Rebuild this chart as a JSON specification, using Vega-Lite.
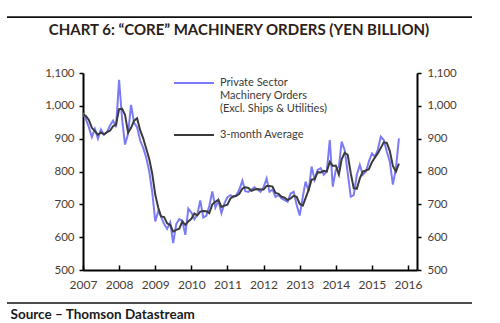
{
  "$schema": "https://vega.github.io/schema/vega-lite/v6.json",
  "width": 334,
  "height": 197,
  "autosize": {"type": "none"},
  "padding": {"left": 83, "top": 73, "right": 83, "bottom": 53},
  "background": "white",
  "config": {"view": {"stroke": null}, "font": "Lato"},
  "title": {
    "text": "CHART 6: “CORE” MACHINERY ORDERS (YEN BILLION)",
    "fontSize": 15,
    "fontWeight": "bold",
    "color": "#2b2119",
    "anchor": "middle",
    "dx": -11,
    "offset": -22
  },
  "data": {
    "values": [
      {"date": "2007-01", "orders": 978, "avg": 975},
      {"date": "2007-02", "orders": 958, "avg": 968},
      {"date": "2007-03", "orders": 935, "avg": 957},
      {"date": "2007-04", "orders": 905, "avg": 933},
      {"date": "2007-05", "orders": 930, "avg": 923},
      {"date": "2007-06", "orders": 900, "avg": 912},
      {"date": "2007-07", "orders": 928, "avg": 919},
      {"date": "2007-08", "orders": 912, "avg": 913},
      {"date": "2007-09", "orders": 920, "avg": 920},
      {"date": "2007-10", "orders": 940, "avg": 924},
      {"date": "2007-11", "orders": 955, "avg": 938},
      {"date": "2007-12", "orders": 935, "avg": 943},
      {"date": "2008-01", "orders": 1079, "avg": 990},
      {"date": "2008-02", "orders": 958, "avg": 991},
      {"date": "2008-03", "orders": 882, "avg": 973},
      {"date": "2008-04", "orders": 915, "avg": 918},
      {"date": "2008-05", "orders": 1003, "avg": 933},
      {"date": "2008-06", "orders": 948, "avg": 955},
      {"date": "2008-07", "orders": 935, "avg": 962},
      {"date": "2008-08", "orders": 895, "avg": 926},
      {"date": "2008-09", "orders": 872, "avg": 901},
      {"date": "2008-10", "orders": 843, "avg": 870},
      {"date": "2008-11", "orders": 800, "avg": 838},
      {"date": "2008-12", "orders": 738, "avg": 794},
      {"date": "2009-01", "orders": 648, "avg": 729},
      {"date": "2009-02", "orders": 680, "avg": 689},
      {"date": "2009-03", "orders": 662, "avg": 663},
      {"date": "2009-04", "orders": 640, "avg": 661},
      {"date": "2009-05", "orders": 625, "avg": 642},
      {"date": "2009-06", "orders": 645, "avg": 637},
      {"date": "2009-07", "orders": 582, "avg": 617},
      {"date": "2009-08", "orders": 640, "avg": 622},
      {"date": "2009-09", "orders": 655, "avg": 626},
      {"date": "2009-10", "orders": 650, "avg": 648},
      {"date": "2009-11", "orders": 607, "avg": 637},
      {"date": "2009-12", "orders": 687, "avg": 648},
      {"date": "2010-01", "orders": 675, "avg": 656},
      {"date": "2010-02", "orders": 655, "avg": 672},
      {"date": "2010-03", "orders": 668, "avg": 666},
      {"date": "2010-04", "orders": 712, "avg": 678},
      {"date": "2010-05", "orders": 660, "avg": 680},
      {"date": "2010-06", "orders": 665, "avg": 679},
      {"date": "2010-07", "orders": 695, "avg": 673},
      {"date": "2010-08", "orders": 739, "avg": 700},
      {"date": "2010-09", "orders": 690, "avg": 708},
      {"date": "2010-10", "orders": 712, "avg": 714},
      {"date": "2010-11", "orders": 673, "avg": 692},
      {"date": "2010-12", "orders": 703, "avg": 696},
      {"date": "2011-01", "orders": 722, "avg": 699},
      {"date": "2011-02", "orders": 728, "avg": 718},
      {"date": "2011-03", "orders": 722, "avg": 724},
      {"date": "2011-04", "orders": 728, "avg": 726},
      {"date": "2011-05", "orders": 745, "avg": 732},
      {"date": "2011-06", "orders": 772, "avg": 748},
      {"date": "2011-07", "orders": 740, "avg": 752},
      {"date": "2011-08", "orders": 738, "avg": 750},
      {"date": "2011-09", "orders": 745, "avg": 741},
      {"date": "2011-10", "orders": 752, "avg": 745},
      {"date": "2011-11", "orders": 745, "avg": 747},
      {"date": "2011-12", "orders": 738, "avg": 745},
      {"date": "2012-01", "orders": 752, "avg": 745},
      {"date": "2012-02", "orders": 779, "avg": 756},
      {"date": "2012-03", "orders": 738, "avg": 756},
      {"date": "2012-04", "orders": 745, "avg": 754},
      {"date": "2012-05", "orders": 723, "avg": 735},
      {"date": "2012-06", "orders": 728, "avg": 732},
      {"date": "2012-07", "orders": 718, "avg": 723},
      {"date": "2012-08", "orders": 713, "avg": 720},
      {"date": "2012-09", "orders": 708, "avg": 713},
      {"date": "2012-10", "orders": 733, "avg": 718},
      {"date": "2012-11", "orders": 738, "avg": 726},
      {"date": "2012-12", "orders": 698, "avg": 723},
      {"date": "2013-01", "orders": 666, "avg": 701},
      {"date": "2013-02", "orders": 723, "avg": 696},
      {"date": "2013-03", "orders": 769, "avg": 719},
      {"date": "2013-04", "orders": 740, "avg": 744},
      {"date": "2013-05", "orders": 815, "avg": 775},
      {"date": "2013-06", "orders": 775, "avg": 777},
      {"date": "2013-07", "orders": 805, "avg": 798},
      {"date": "2013-08", "orders": 810, "avg": 797},
      {"date": "2013-09", "orders": 790, "avg": 802},
      {"date": "2013-10", "orders": 800, "avg": 800},
      {"date": "2013-11", "orders": 896, "avg": 829},
      {"date": "2013-12", "orders": 754, "avg": 817},
      {"date": "2014-01", "orders": 805, "avg": 818},
      {"date": "2014-02", "orders": 815, "avg": 791},
      {"date": "2014-03", "orders": 891, "avg": 837},
      {"date": "2014-04", "orders": 865, "avg": 857},
      {"date": "2014-05", "orders": 796, "avg": 851},
      {"date": "2014-06", "orders": 723, "avg": 795},
      {"date": "2014-07", "orders": 728, "avg": 749},
      {"date": "2014-08", "orders": 790, "avg": 747},
      {"date": "2014-09", "orders": 820, "avg": 779},
      {"date": "2014-10", "orders": 790, "avg": 800},
      {"date": "2014-11", "orders": 800, "avg": 803},
      {"date": "2014-12", "orders": 830, "avg": 807},
      {"date": "2015-01", "orders": 855, "avg": 828},
      {"date": "2015-02", "orders": 845, "avg": 843},
      {"date": "2015-03", "orders": 866, "avg": 855},
      {"date": "2015-04", "orders": 906, "avg": 872},
      {"date": "2015-05", "orders": 896, "avg": 889},
      {"date": "2015-06", "orders": 860, "avg": 887},
      {"date": "2015-07", "orders": 830, "avg": 862},
      {"date": "2015-08", "orders": 760, "avg": 817},
      {"date": "2015-09", "orders": 810, "avg": 800},
      {"date": "2015-10", "orders": 901, "avg": 824}
    ]
  },
  "layer": [
    {
      "mark": {"type": "line", "strokeWidth": 2, "clip": true},
      "encoding": {
        "x": {
          "field": "date",
          "type": "temporal",
          "scale": {"domain": [{"year": 2007, "month": 1, "date": 1}, {"year": 2016, "month": 4, "date": 1}]},
          "axis": {
            "format": "%Y",
            "tickCount": {"interval": "year", "step": 1},
            "grid": false,
            "domainColor": "#000000",
            "domainWidth": 2,
            "tickColor": "#000000",
            "tickWidth": 1.5,
            "tickSize": -5,
            "labelPadding": 14,
            "labelFontSize": 12,
            "labelColor": "#4a3c34",
            "labelFlush": false,
            "title": "Source – Thomson Datastream",
            "titleX": -73,
            "titleY": 44,
            "titleAlign": "left",
            "titleAnchor": "start",
            "titleBaseline": "middle",
            "titleFontSize": 13.5,
            "titleFontWeight": "bold",
            "titleColor": "#1a1a1a"
          }
        },
        "y": {
          "field": "orders",
          "type": "quantitative",
          "scale": {"domain": [500, 1100]},
          "axis": {
            "orient": "left",
            "values": [500, 600, 700, 800, 900, 1000, 1100],
            "format": ",d",
            "grid": false,
            "domainColor": "#000000",
            "domainWidth": 2,
            "tickColor": "#000000",
            "tickWidth": 1.5,
            "tickSize": 4,
            "labelPadding": 5,
            "labelFontSize": 11.5,
            "labelColor": "#4a3c34",
            "title": null
          }
        },
        "color": {
          "datum": "orders",
          "type": "nominal",
          "scale": {"domain": ["orders", "avg"], "range": ["#7b7bf6", "#3b3b3b"]},
          "legend": {
            "orient": "none",
            "legendX": 90,
            "legendY": -11,
            "title": null,
            "symbolType": "stroke",
            "symbolSize": 1600,
            "symbolStrokeWidth": 2,
            "labelFontSize": 11,
            "labelColor": "#3a3a3a",
            "labelOffset": 5,
            "labelLimit": 300,
            "rowPadding": -7,
            "labelExpr": "datum.value == 'orders' ? ['Private Sector', 'Machinery Orders', '(Excl. Ships & Utilities)'] : '3-month Average'"
          }
        }
      }
    },
    {
      "mark": {"type": "line", "strokeWidth": 2, "clip": true},
      "encoding": {
        "x": {"field": "date", "type": "temporal"},
        "y": {
          "field": "avg",
          "type": "quantitative",
          "scale": {"domain": [500, 1100]},
          "axis": {
            "orient": "right",
            "values": [500, 600, 700, 800, 900, 1000, 1100],
            "format": ",d",
            "grid": false,
            "domainColor": "#000000",
            "domainWidth": 2,
            "tickColor": "#000000",
            "tickWidth": 1.5,
            "tickSize": 4,
            "labelPadding": 6,
            "labelFontSize": 11.5,
            "labelColor": "#4a3c34",
            "title": null
          }
        },
        "color": {"datum": "avg", "type": "nominal"}
      }
    },
    {
      "data": {"values": [{"line": "top"}]},
      "mark": {"type": "rule", "stroke": "#111111", "strokeWidth": 1.8, "opacity": 1, "clip": false},
      "encoding": {
        "x": {"value": -76},
        "x2": {"value": 389},
        "y": {"datum": 1270, "type": "quantitative", "scale": {"domain": [500, 1100]}, "axis": null}
      }
    },
    {
      "data": {"values": [{"line": "bottom"}]},
      "mark": {"type": "rule", "stroke": "#111111", "strokeWidth": 1.6},
      "encoding": {
        "x": {"value": -76},
        "x2": {"value": 389},
        "y": {"value": 230}
      }
    }
  ],
  "resolve": {"scale": {"y": "independent"}}
}
